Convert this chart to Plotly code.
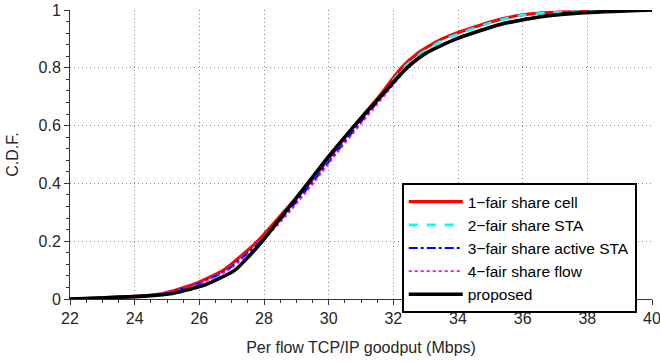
import plotly.graph_objects as go

# CDF levels and per-series goodput values (Mbps)
cdf = [0, 0.01, 0.02, 0.05, 0.1, 0.15, 0.2, 0.3, 0.4, 0.5, 0.6, 0.7, 0.8, 0.85, 0.9, 0.95, 0.97, 0.98, 0.99, 1.0]

cell = [22.0, 24.1, 24.9, 25.8, 26.75, 27.3, 27.8, 28.6, 29.4, 30.1, 30.8, 31.55, 32.25, 32.75, 33.5, 34.75, 35.4, 35.8, 36.6, 40.0]
sta = [22.0, 24.2, 25.0, 25.95, 26.85, 27.4, 27.9, 28.7, 29.45, 30.15, 30.88, 31.6, 32.32, 32.85, 33.6, 34.85, 35.45, 35.85, 36.7, 40.0]
active_sta = [22.0, 24.1, 24.95, 25.9, 26.85, 27.4, 27.9, 28.72, 29.47, 30.18, 30.9, 31.65, 32.42, 33.0, 33.9, 35.25, 36.1, 36.7, 37.7, 40.0]
flow = [22.0, 24.0, 24.9, 25.95, 26.9, 27.45, 27.95, 28.78, 29.52, 30.22, 30.95, 31.7, 32.45, 33.05, 33.95, 35.3, 36.15, 36.75, 37.75, 40.0]
proposed = [22.0, 24.3, 25.2, 26.2, 27.1, 27.55, 27.95, 28.65, 29.35, 30.05, 30.8, 31.6, 32.42, 33.0, 33.95, 35.3, 36.2, 36.8, 37.8, 40.0]

names = ["1\u2212fair share cell", "2\u2212fair share STA", "3\u2212fair share active STA",
         "4\u2212fair share flow", "proposed"]
series = [cell, sta, active_sta, flow, proposed]
colors = ["#ff0000", "#00ffff", "#0000ff", "#ff00ff", "#000000"]
dashes = ["solid", "dash", "dashdot", "dot", "solid"]
widths = [3.2, 2.6, 2.2, 1.8, 3.6]

fig = go.Figure()
for nm, xs, c, d, w in zip(names, series, colors, dashes, widths):
    fig.add_trace(go.Scatter(x=xs, y=cdf, mode="lines", name=nm,
                             line=dict(color=c, dash=d, width=w, shape="spline", smoothing=0.6)))

font_family = "Liberation Sans, Arial, Helvetica, sans-serif"
fig.update_layout(
    width=660, height=362,
    margin=dict(l=70, r=8, t=10, b=63, autoexpand=False),
    paper_bgcolor="white", plot_bgcolor="white",
    font=dict(family=font_family, size=16, color="#262626"),
    showlegend=True,
    legend=dict(x=0.570, y=0.401, xanchor="left", yanchor="top",
                bgcolor="white", bordercolor="black", borderwidth=2,
                font=dict(size=15.5, color="black"), tracegroupgap=0,
                itemwidth=54),
)
grid_dash = "1px,3px"
fig.update_xaxes(
    range=[22, 40], dtick=2, tick0=22, automargin=False, ticklabeloverflow="allow",
    showline=True, linecolor="#333333", linewidth=1,
    ticks="outside", ticklen=5, tickcolor="#333333",
    minor=dict(dtick=0.5, ticks="outside", ticklen=3, tickcolor="#333333", showgrid=False),
    showgrid=True, gridcolor="#8a8a8a", griddash=grid_dash, gridwidth=1,
    zeroline=False,
    title=dict(text="Per flow TCP/IP goodput (Mbps)", standoff=15, font=dict(size=16)),
    tickfont=dict(size=16),
)
fig.update_yaxes(
    range=[0, 1], dtick=0.2, tick0=0, automargin=False, ticklabeloverflow="allow",
    showline=True, linecolor="#333333", linewidth=1,
    ticks="outside", ticklen=5, tickcolor="#333333",
    minor=dict(dtick=0.04, ticks="outside", ticklen=3, tickcolor="#333333", showgrid=False),
    showgrid=True, gridcolor="#8a8a8a", griddash=grid_dash, gridwidth=1,
    zeroline=False,
    title=dict(text="C.D.F.", standoff=15, font=dict(size=16)),
    tickfont=dict(size=16),
)

fig.write_html("out.html")
